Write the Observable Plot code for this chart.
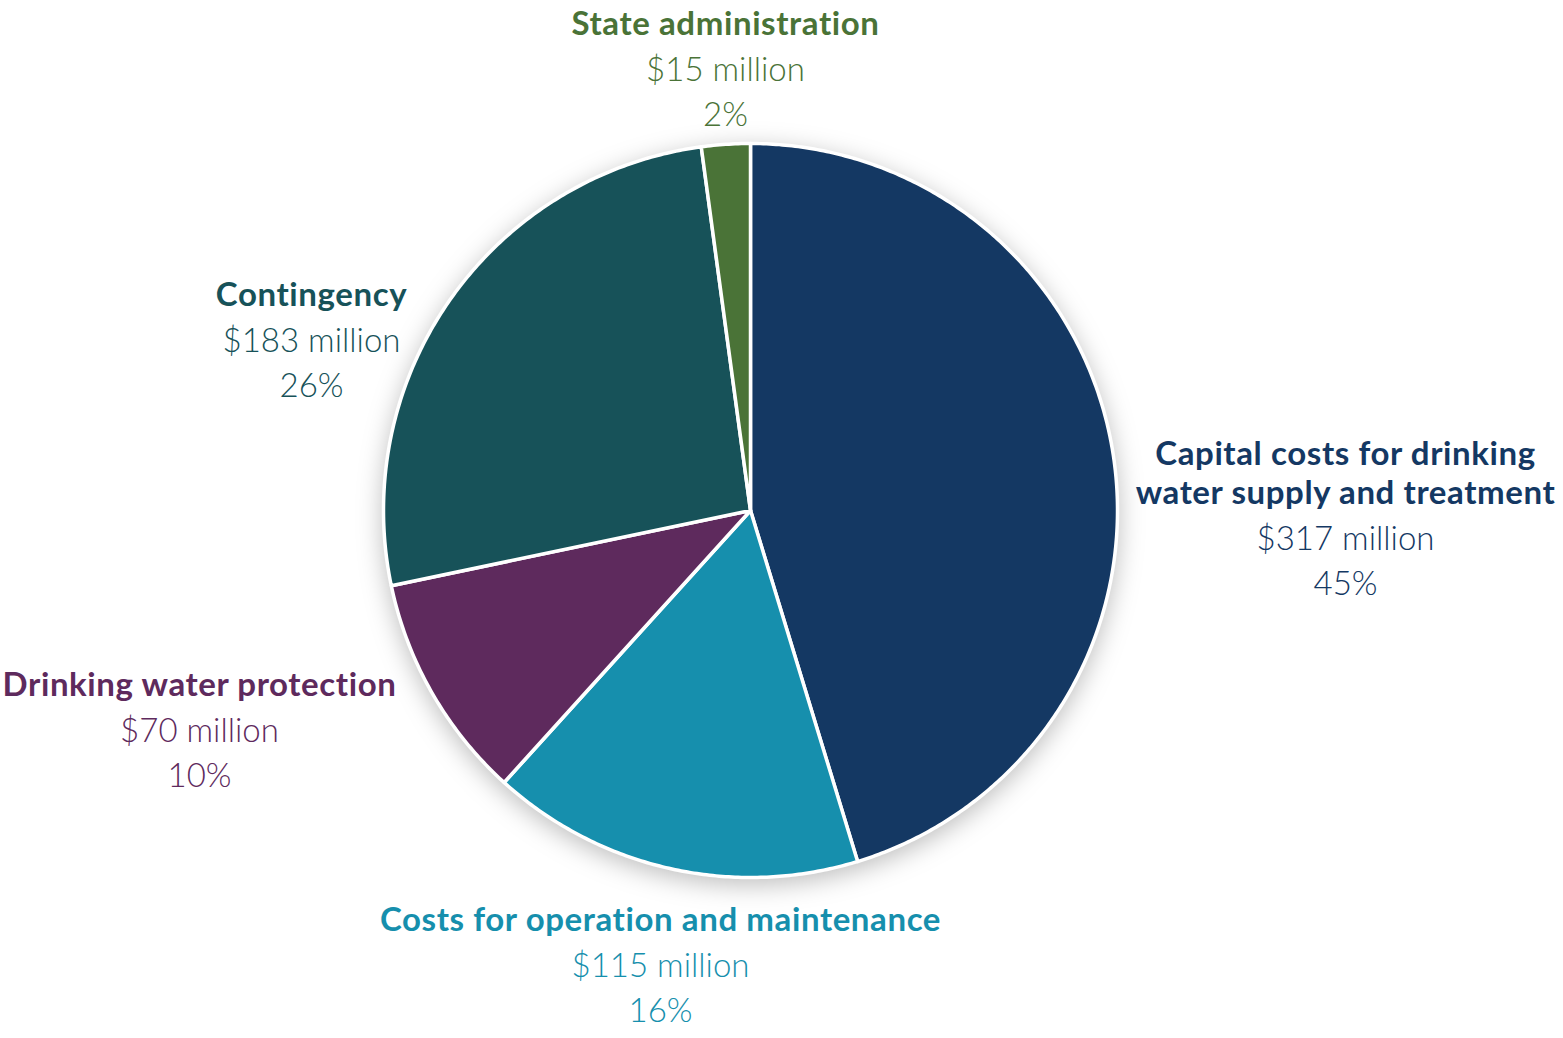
<!DOCTYPE html>
<html>
<head>
<meta charset="utf-8">
<script src="https://cdn.jsdelivr.net/npm/d3@7"></script>
<script src="https://cdn.jsdelivr.net/npm/@observablehq/plot@0.6"></script>
<style>
  html, body { margin: 0; padding: 0; background: #ffffff; }
  #chart svg { display: block; }
</style>
</head>
<body>
<div id="chart"></div>
<script>
// ---- Data ----
const categories = [
  "Capital costs for drinking water supply and treatment",
  "Costs for operation and maintenance",
  "Drinking water protection",
  "Contingency",
  "State administration"
];
const titleLines = [
  ["Capital costs for drinking", "water supply and treatment"],
  ["Costs for operation and maintenance"],
  ["Drinking water protection"],
  ["Contingency"],
  ["State administration"]
];
const valuesMillions = [317, 115, 70, 183, 15];
const percentLabels = ["45%", "16%", "10%", "26%", "2%"];
const colors = ["#143863", "#168fad", "#5e2a5d", "#175259", "#4a7337"];

// ---- Layout (pixels) ----
const W = 1563, H = 1038;
const CX = 750, CY = 510, R = 367;
// label anchor: center x and first title line center y, relative to the pie centre (px)
const labelLayout = [
  {dx: 595, dy: -56},
  {dx: -90, dy: 410},
  {dx: -551, dy: 175},
  {dx: -439, dy: -215},
  {dx: -25, dy: -486}
];
const titleGap = 39, blockGap = 46, lineGap = 45;
const titleSize = 33, valueSize = 33;

// ---- Pie geometry from data ----
const pie = d3.pie().sort(null).value(d => d.value);
const slices = pie(categories.map((c, i) => ({name: c, value: valuesMillions[i]})));
const arcPts = [];
for (const s of slices) {
  const name = s.data.name;
  arcPts.push({name, x: 0, y: 0});
  const n = Math.max(4, Math.ceil((s.endAngle - s.startAngle) / (Math.PI / 360)));
  for (let k = 0; k <= n; k++) {
    const a = s.startAngle + (s.endAngle - s.startAngle) * k / n;
    arcPts.push({name, x: Math.sin(a), y: -Math.cos(a)});
  }
  arcPts.push({name, x: 0, y: 0});
}

// ---- Label rows ----
const titleRows = [], valueRows = [], pctRows = [];
categories.forEach((c, i) => {
  const L = labelLayout[i];
  const x = L.dx / R;
  titleLines[i].forEach((t, j) => {
    titleRows.push({name: c, text: t, x, y: (L.dy + j * titleGap) / R});
  });
  const vy = L.dy + (titleLines[i].length - 1) * titleGap + blockGap;
  valueRows.push({name: c, text: `$${valuesMillions[i]} million`, x, y: vy / R});
  pctRows.push({name: c, text: percentLabels[i], x, y: (vy + lineGap) / R});
});

const chart = Plot.plot({
  width: W,
  height: H,
  margin: 0,
  x: {domain: [-CX / R, (W - CX) / R], range: [0, W], axis: null},
  y: {domain: [-CY / R, (H - CY) / R], range: [0, H], axis: null},
  color: {domain: categories, range: colors},
  style: {fontFamily: "Lato, 'Open Sans', sans-serif", background: "#ffffff"},
  marks: [
    Plot.line(arcPts, {
      x: "x", y: "y", z: "name", fill: "name",
      stroke: "#ffffff", strokeWidth: 3.5, strokeLinejoin: "round", curve: "linear"
    }),
    Plot.text(titleRows, {
      x: "x", y: "y", text: "text", fill: "name",
      fontSize: titleSize, fontWeight: 700, textAnchor: "middle", lineAnchor: "middle"
    }),
    Plot.text(valueRows, {
      x: "x", y: "y", text: "text", fill: "name",
      fontSize: valueSize, fontWeight: 300, textAnchor: "middle", lineAnchor: "middle"
    }),
    Plot.text(pctRows, {
      x: "x", y: "y", text: "text", fill: "name",
      fontSize: valueSize, fontWeight: 300, textAnchor: "middle", lineAnchor: "middle"
    })
  ]
});

// soft drop shadow beneath the pie
const pieGroup = chart.querySelector('g[aria-label="line"]');
if (pieGroup) pieGroup.style.filter = "drop-shadow(0px 6px 12px rgba(0,0,0,0.25))";
// slightly wider tracking on bold titles
const textGroups = chart.querySelectorAll('g[aria-label="text"]');
if (textGroups[0]) textGroups[0].style.letterSpacing = "0.6px";

document.getElementById("chart").appendChild(chart);
</script>
</body>
</html>
